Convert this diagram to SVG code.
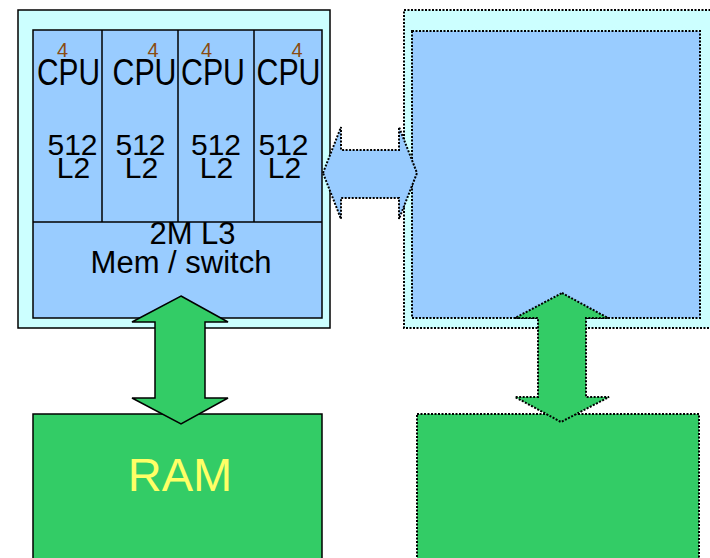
<svg xmlns="http://www.w3.org/2000/svg" width="710" height="558" viewBox="0 0 710 558">
<style>
.t{font-family:"Liberation Sans",Arial,sans-serif;fill:#000}
.solid{stroke:#000;stroke-width:1.5}
.dot{stroke:#000;stroke-width:2;stroke-dasharray:2 1.5}
.cyan{fill:#ccffff}
.blue{fill:#99ccff}
.green{fill:#33cc66}
.cpu{font-size:37px;text-anchor:middle}
.sup{font-size:20px;text-anchor:middle;fill:#8a4b10}
.l2{font-size:30px;text-anchor:middle}
</style>
<rect width="710" height="558" fill="#fff"/>
<g id="node-left">
<rect class="cyan solid" x="18" y="10" width="312" height="318"/>
<rect class="blue solid" x="33" y="30" width="289" height="288"/>
<g class="solid" fill="none">
<line x1="33" y1="222" x2="322" y2="222"/>
<line x1="102" y1="30" x2="102" y2="222"/>
<line x1="178" y1="30" x2="178" y2="222"/>
<line x1="254" y1="30" x2="254" y2="222"/>
</g>
<g class="t">
<text class="t sup" x="62.5" y="57">4</text>
<text class="t sup" x="153" y="57">4</text>
<text class="t sup" x="206.5" y="57">4</text>
<text class="t sup" x="297" y="57">4</text>
<text class="t cpu" x="68.5" y="85" textLength="63" lengthAdjust="spacingAndGlyphs">CPU</text>
<text class="t cpu" x="144.5" y="85" textLength="64" lengthAdjust="spacingAndGlyphs">CPU</text>
<text class="t cpu" x="213" y="85" textLength="64" lengthAdjust="spacingAndGlyphs">CPU</text>
<text class="t cpu" x="288.5" y="85" textLength="64" lengthAdjust="spacingAndGlyphs">CPU</text>
<text class="t l2" x="72.5" y="155">512</text>
<text class="t l2" x="140.5" y="155">512</text>
<text class="t l2" x="216" y="155">512</text>
<text class="t l2" x="283.5" y="155">512</text>
<text class="t l2" x="73.5" y="178">L2</text>
<text class="t l2" x="141.5" y="178">L2</text>
<text class="t l2" x="216.5" y="178">L2</text>
<text class="t l2" x="284.5" y="178">L2</text>
<text class="t" x="192.5" y="244" font-size="31" text-anchor="middle">2M L3</text>
<text class="t" x="181" y="273" font-size="31" text-anchor="middle">Mem / switch</text>
</g>
</g>
<g id="node-ram">
<rect class="green solid" x="33" y="414" width="289" height="150"/>
<text x="180" y="491" font-family="Liberation Sans, Arial, sans-serif" font-size="47" fill="#ffff66" text-anchor="middle">RAM</text>
</g>
<g id="node-right">
<rect class="cyan dot" x="404" y="10" width="312" height="318"/>
<rect class="blue dot" x="412" y="31" width="288" height="287"/>
</g>
<g id="node-right-ram">
<rect class="green dot" x="417" y="414" width="282" height="150"/>
</g>
<g id="connectors">
<polygon class="green solid" points="181,296 228,322 205,322 205,398 228,398 181,424 132,398 155,398 155,322 132,322"/>
<polygon class="green dot" points="562,293 608,318 586,318 586,397 609,397 561,422 515,397 538,397 538,318 515,318"/>
<polygon class="blue dot" points="323,173 341,127 341,150 399,150 399,127 417,173 399,219 399,198 341,198 341,219"/>
</g>
</svg>
